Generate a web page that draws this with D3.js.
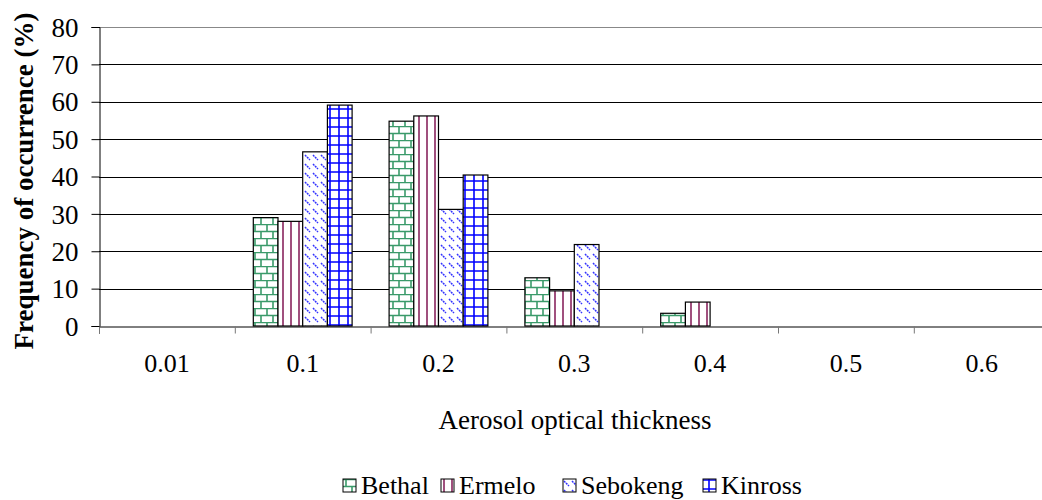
<!DOCTYPE html>
<html>
<head>
<meta charset="utf-8">
<script src="https://cdn.jsdelivr.net/npm/d3@7"></script>
<style>
  body { margin: 0; background: #fff; }
  text { font-family: "Liberation Serif", "Times New Roman", serif; fill: #000; }
</style>
</head>
<body>
<script>
// data
var categories = ["0.01", "0.1", "0.2", "0.3", "0.4", "0.5", "0.6"];
var seriesNames = ["Bethal", "Ermelo", "Sebokeng", "Kinross"];
var bethal   = [0, 29.0, 54.8, 12.9, 3.4, 0, 0];
var ermelo   = [0, 28.0, 56.2, 9.4, 6.4, 0, 0];
var sebokeng = [0, 46.6, 31.2, 21.8, 0, 0, 0];
var kinross  = [0, 59.1, 40.4, 0, 0, 0, 0];
var yTicks = [0, 10, 20, 30, 40, 50, 60, 70, 80];

var seriesValues = [bethal, ermelo, sebokeng, kinross];

var width = 1042, height = 500;
var plotLeft = 99, plotTop = 27, plotBottom = 326;
var bandW = 135.8;

var svg = d3.select("body").append("svg")
  .attr("width", width)
  .attr("height", height);

/* patterns */
var defs = svg.append("defs");

var brick = defs.append("pattern").attr("id", "p0")
  .attr("patternUnits", "userSpaceOnUse").attr("width", 12).attr("height", 14);
brick.append("rect").attr("width", 12).attr("height", 14).attr("fill", "#fff");
brick.append("path")
  .attr("d", "M0,0.5H12M0,7.5H12M3,0V7M9,7V14")
  .attr("stroke", "#3a9a6a").attr("stroke-width", 1.6).attr("fill", "none");

var stripe = defs.append("pattern").attr("id", "p1")
  .attr("patternUnits", "userSpaceOnUse").attr("width", 8).attr("height", 8);
stripe.append("rect").attr("width", 8).attr("height", 8).attr("fill", "#fff");
stripe.append("rect").attr("x", 2).attr("width", 2).attr("height", 8).attr("fill", "#a0507e");

var dash = defs.append("pattern").attr("id", "p2")
  .attr("patternUnits", "userSpaceOnUse").attr("width", 8).attr("height", 9);
dash.append("rect").attr("width", 8).attr("height", 9).attr("fill", "#fff");
dash.append("path")
  .attr("d", "M1,2L6,7")
  .attr("stroke", "#3333ff").attr("stroke-width", 1.5).attr("stroke-dasharray", "2,0.8").attr("fill", "none");

var grid = defs.append("pattern").attr("id", "p3")
  .attr("patternUnits", "userSpaceOnUse").attr("width", 9).attr("height", 9);
grid.append("rect").attr("width", 9).attr("height", 9).attr("fill", "#fff");
grid.append("path")
  .attr("d", "M0,1H9M6,0V9")
  .attr("stroke", "#0000ff").attr("stroke-width", 1.6).attr("fill", "none");

/* scales */
var x = d3.scaleBand()
  .domain(categories)
  .range([plotLeft, plotLeft + bandW * categories.length]);

var xSub = d3.scaleBand()
  .domain(seriesNames)
  .range([18.5, bandW - 18.5]);

var y = d3.scaleLinear()
  .domain([0, 80])
  .range([plotBottom, plotTop]);

/* gridlines */
svg.append("g")
  .selectAll("line")
  .data(yTicks.slice(1))
  .enter().append("line")
    .attr("x1", plotLeft).attr("x2", width)
    .attr("y1", function(d) { return Math.round(y(d)) + 0.5; })
    .attr("y2", function(d) { return Math.round(y(d)) + 0.5; })
    .attr("stroke", function(d) { return d === 80 ? "#888" : "#000"; })
    .attr("stroke-width", 1);

/* bars */
var groups = svg.append("g")
  .selectAll("g")
  .data(seriesNames)
  .enter().append("g")
    .attr("fill", function(d, i) { return "url(#p" + i + ")"; });

groups.selectAll("rect")
  .data(function(d, i) {
    return seriesValues[i].map(function(v, j) { return { name: d, cat: categories[j], value: v }; });
  })
  .enter().filter(function(d) { return d.value > 0; })
  .append("rect")
    .attr("x", function(d) { return x(d.cat) + xSub(d.name); })
    .attr("y", function(d) { return y(d.value); })
    .attr("width", xSub.bandwidth())
    .attr("height", function(d) { return plotBottom - y(d.value); })
    .attr("stroke", "#000")
    .attr("stroke-width", 1.2);

/* y axis */
var yAxis = svg.append("g")
  .attr("transform", "translate(" + (plotLeft + 0.5) + ",0)")
  .call(d3.axisLeft(y).tickValues(yTicks).tickSize(8).tickPadding(13));
yAxis.select(".domain").attr("stroke", "#000");
yAxis.selectAll(".tick line").attr("stroke", "#000");
yAxis.selectAll("text").style("font-size", "27px").attr("dy", "0.34em");

/* x axis */
var xb = d3.scaleLinear().domain([0, categories.length]).range([plotLeft, plotLeft + bandW * categories.length]);
var xAxis = svg.append("g")
  .attr("transform", "translate(0," + (plotBottom + 0.5) + ")")
  .call(d3.axisBottom(xb).tickValues(d3.range(categories.length + 1)).tickSize(7).tickFormat(""));
xAxis.select(".domain").attr("stroke", "#000");
xAxis.selectAll(".tick line").attr("stroke", "#777");

var xLabels = svg.append("g")
  .attr("transform", "translate(0," + plotBottom + ")")
  .call(d3.axisBottom(x).tickSize(0).tickPadding(28));
xLabels.select(".domain").remove();
xLabels.selectAll("text").style("font-size", "26px");

/* axis titles */
svg.append("text")
  .attr("x", 575).attr("y", 429)
  .attr("text-anchor", "middle")
  .style("font-size", "27px")
  .text("Aerosol optical thickness");

svg.append("text")
  .attr("transform", "translate(33,181) rotate(-90)")
  .attr("text-anchor", "middle")
  .style("font-size", "27px")
  .style("font-weight", "bold")
  .text("Frequency of occurrence (%)");

/* legend */
var legendX = [343, 441, 563, 703];
var legend = svg.append("g")
  .selectAll("g")
  .data(seriesNames)
  .enter().append("g")
    .attr("transform", function(d, i) { return "translate(" + legendX[i] + ",479)"; });

legend.append("rect")
  .attr("width", 13).attr("height", 13)
  .attr("fill", function(d, i) { return "url(#p" + i + ")"; })
  .attr("stroke", "#000").attr("stroke-width", 1);

legend.append("text")
  .attr("x", 18).attr("y", 15)
  .style("font-size", "26px")
  .text(function(d) { return d; });
</script>
</body>
</html>
